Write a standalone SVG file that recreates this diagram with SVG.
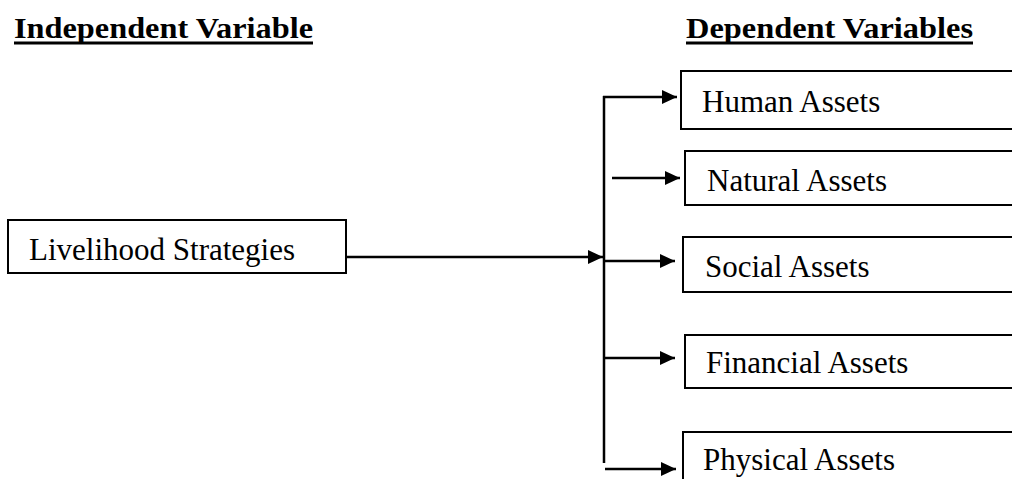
<svg xmlns="http://www.w3.org/2000/svg" width="1012" height="479" viewBox="0 0 1012 479">
<style>
.box{fill:#fff;stroke:#000;stroke-width:2}
.lbl{font-family:"Liberation Serif","Times New Roman",serif;font-size:31px;fill:#000}
.hdr{font-family:"Liberation Serif","Times New Roman",serif;font-size:30px;font-weight:bold;fill:#000}
.ln{stroke:#000;stroke-width:2.5;fill:none}
</style>
<defs>
<marker id="ah" markerUnits="userSpaceOnUse" markerWidth="16" markerHeight="14" refX="15" refY="7" orient="auto">
<path d="M0,0 L15,7 L0,14 Z" fill="#000"/>
</marker>
</defs>
<rect width="1012" height="479" fill="#fff"/>
<g id="headers">
<text class="hdr" x="14" y="38" textLength="299" lengthAdjust="spacingAndGlyphs">Independent Variable</text>
<rect x="14" y="41.5" width="299" height="3" fill="#000"/>
<text class="hdr" x="686" y="38" textLength="287" lengthAdjust="spacingAndGlyphs">Dependent Variables</text>
<rect x="686" y="41.5" width="287" height="3" fill="#000"/>
</g>
<g id="connectors">
<line class="ln" x1="346" y1="257" x2="603" y2="257" marker-end="url(#ah)"/>
<line class="ln" x1="604" y1="96" x2="604" y2="463"/>
<line class="ln" x1="603" y1="97" x2="677" y2="97" marker-end="url(#ah)"/>
<line class="ln" x1="612" y1="178" x2="680" y2="178" marker-end="url(#ah)"/>
<line class="ln" x1="604" y1="261" x2="675" y2="261" marker-end="url(#ah)"/>
<line class="ln" x1="604" y1="358" x2="675" y2="358" marker-end="url(#ah)"/>
<line class="ln" x1="605" y1="469" x2="676" y2="469" marker-end="url(#ah)"/>
</g>
<g id="livelihood">
<rect class="box" x="8" y="220" width="338" height="53"/>
<text class="lbl" x="29" y="260">Livelihood Strategies</text>
</g>
<g id="human">
<rect class="box" x="681" y="71" width="340" height="58"/>
<text class="lbl" x="702" y="112">Human Assets</text>
</g>
<g id="natural">
<rect class="box" x="685" y="151" width="340" height="54"/>
<text class="lbl" x="707" y="191">Natural Assets</text>
</g>
<g id="social">
<rect class="box" x="683" y="237" width="340" height="55"/>
<text class="lbl" x="705" y="277">Social Assets</text>
</g>
<g id="financial">
<rect class="box" x="685" y="335" width="340" height="53"/>
<text class="lbl" x="706" y="373">Financial Assets</text>
</g>
<g id="physical">
<rect class="box" x="683" y="432" width="340" height="60"/>
<text class="lbl" x="703" y="470">Physical Assets</text>
</g>
</svg>
